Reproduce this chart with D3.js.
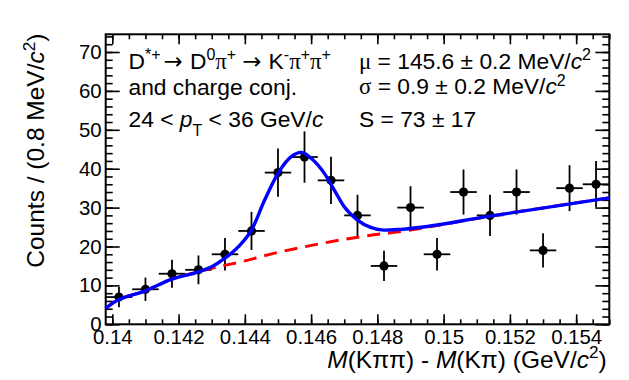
<!DOCTYPE html>
<html><head><meta charset="utf-8">
<script src="https://cdn.jsdelivr.net/npm/d3@7/dist/d3.min.js"></script>
<style>body{margin:0;background:#fff}svg{display:block}</style>
</head><body>
<svg id="c" width="629" height="380"></svg>
<script>
// ---- data ----
const binCenters = [0.1402,0.1410,0.1418,0.1426,0.1434,0.1442,0.1450,0.1458,0.1466,0.1474,0.1482,0.1490,0.1498,0.1506,0.1514,0.1522,0.1530,0.1538,0.1546];
const counts     = [7,9,13,14,18,24,39,43,37,28,15,30,18,34,28,34,19,35,36];
const countErr   = [2.6,3.0,3.6,3.7,4.2,4.9,6.2,6.6,6.1,5.3,3.9,5.5,4.2,5.8,5.3,5.8,4.4,5.9,6.0];
const binHalfWidth = 0.0004;

// total fit (signal + background)
const fitX = [0.1398,0.1400,0.1410,0.1418,0.1426,0.1430,0.1434,0.1438,0.1442,0.1446,0.1450,0.1454,0.1457,0.1460,0.1464,0.1467,0.1470,0.1474,0.1478,0.1482,0.1487,0.1514,0.1550];
const fitY = [4.1,5.4,8.6,11.6,13.5,14.8,17.0,19.9,24.2,32.0,38.8,43.1,44.2,42.7,38.8,34.5,30.2,26.8,24.9,24.2,24.4,27.8,32.5];
// background component
const bkgX = [0.1398,0.1400,0.1410,0.1418,0.1426,0.1430,0.1439,0.1449,0.1459,0.1469,0.1479,0.1484,0.1514,0.1550];
const bkgY = [4.1,5.4,8.6,11.6,13.5,14.4,16.1,18.3,20.1,21.7,23.0,23.5,27.8,32.5];

const xTickValues = [0.140,0.142,0.144,0.146,0.148,0.150,0.152,0.154];
const xTickLabels = ["0.14","0.142","0.144","0.146","0.148","0.15","0.152","0.154"];
const yTickValues = [0,10,20,30,40,50,60,70];
const yTickLabels = ["0","10","20","30","40","50","60","70"];
const xDomain = [0.1398, 0.1550];
const yDomain = [0, 74.55];

// ---- layout ----
const L = 105.7, R = 609.3, T = 34.3, B = 324.3;
const SANS = "'Liberation Sans', Arial, Helvetica, sans-serif";
const SERIF = "'Liberation Serif', 'Times New Roman', serif";
const ARROW = "'DejaVu Sans', sans-serif";

const svg = d3.select("#c");
const x = d3.scaleLinear().domain(xDomain).range([L, R]);
const y = d3.scaleLinear().domain(yDomain).range([B, T]);

const xMinor = d3.range(0.1400, 0.15501, 0.0005).filter(v => v <= xDomain[1] + 1e-9);
const yMinor = d3.range(0, 75, 2);

function styleAxis(g){
  g.select(".domain").remove();
  g.selectAll(".tick line").attr("stroke", "#000").attr("stroke-width", 1.6);
  g.selectAll("text").attr("font-family", SANS).attr("font-size", 20.4).attr("fill", "#000");
}

// bottom
svg.append("g").attr("transform", `translate(0,${B})`)
  .call(d3.axisBottom(x).tickValues(xMinor).tickSize(-5).tickFormat(""))
  .call(styleAxis);
svg.append("g").attr("transform", `translate(0,${B})`)
  .call(d3.axisBottom(x).tickValues(xTickValues).tickSize(-10).tickPadding(5)
        .tickFormat((d, i) => xTickLabels[i]))
  .call(styleAxis);
// top
svg.append("g").attr("transform", `translate(0,${T})`)
  .call(d3.axisTop(x).tickValues(xMinor).tickSize(-5).tickFormat(""))
  .call(styleAxis);
svg.append("g").attr("transform", `translate(0,${T})`)
  .call(d3.axisTop(x).tickValues(xTickValues).tickSize(-10).tickFormat(""))
  .call(styleAxis);
// left
svg.append("g").attr("transform", `translate(${L},0)`)
  .call(d3.axisLeft(y).tickValues(yMinor).tickSize(-7).tickFormat(""))
  .call(styleAxis);
svg.append("g").attr("transform", `translate(${L},0)`)
  .call(d3.axisLeft(y).tickValues(yTickValues).tickSize(-14).tickPadding(4)
        .tickFormat((d, i) => yTickLabels[i]))
  .call(styleAxis);
// right
svg.append("g").attr("transform", `translate(${R},0)`)
  .call(d3.axisRight(y).tickValues(yMinor).tickSize(-7).tickFormat(""))
  .call(styleAxis);
svg.append("g").attr("transform", `translate(${R},0)`)
  .call(d3.axisRight(y).tickValues(yTickValues).tickSize(-14).tickFormat(""))
  .call(styleAxis);

// frame
svg.append("rect").attr("x", L).attr("y", T).attr("width", R - L).attr("height", B - T)
  .attr("fill", "none").attr("stroke", "#000").attr("stroke-width", 2);

// ---- data points ----
const pts = svg.append("g");
binCenters.forEach((c, i) => {
  const g = pts.append("g");
  g.append("line").attr("x1", Math.max(x(c - binHalfWidth), L)).attr("x2", Math.min(x(c + binHalfWidth), R))
    .attr("y1", y(counts[i])).attr("y2", y(counts[i])).attr("stroke", "#000").attr("stroke-width", 1.8);
  g.append("line").attr("x1", x(c)).attr("x2", x(c))
    .attr("y1", y(counts[i] - countErr[i])).attr("y2", y(counts[i] + countErr[i]))
    .attr("stroke", "#000").attr("stroke-width", 1.8);
  g.append("circle").attr("cx", x(c)).attr("cy", y(counts[i])).attr("r", 4.6).attr("fill", "#000");
});

// ---- fit curves ----
const line = d3.line().curve(d3.curveMonotoneX);
svg.append("path")
  .attr("d", line(bkgX.map((v, i) => [x(v), y(bkgY[i])])))
  .attr("fill", "none").attr("stroke", "#ff0000").attr("stroke-width", 3)
  .attr("stroke-dasharray", "13,8");
svg.append("path")
  .attr("d", line(fitX.map((v, i) => [x(v), y(fitY[i])])))
  .attr("fill", "none").attr("stroke", "#0000ff").attr("stroke-width", 3.4);

// ---- rich text helper ----
function rich(sel, parts, size){
  let cur = 0;
  parts.forEach(p => {
    const target = p.s === "sup" ? -size * 0.38 : p.s === "sub" ? size * 0.42 : 0;
    const ts = sel.append("tspan").text(p.t).attr("dy", target - cur);
    cur = target;
    if (p.s) ts.attr("font-size", size * 0.7);
    if (p.i) ts.attr("font-style", "italic");
    if (p.f) ts.attr("font-family", p.f);
    if (p.dx) ts.attr("dx", p.dx);
  });
}
function label(xp, yp, parts, size, anchor){
  const t = svg.append("text").attr("x", xp).attr("y", yp)
    .attr("font-family", SANS).attr("font-size", size).attr("fill", "#000")
    .attr("text-anchor", anchor || "start");
  rich(t, parts, size);
  return t;
}

const LS = 22.8;
label(128.5, 69, [
  {t:"D"},{t:"*+", s:"sup"},{t:"→", f:ARROW, dx:3},{t:" D", dx:1},{t:"0", s:"sup"},{t:"π", f:SERIF},{t:"+", s:"sup"},
  {t:"→", f:ARROW, dx:6},{t:" K", dx:1},{t:"-", s:"sup"},{t:"π", f:SERIF},{t:"+", s:"sup"},{t:"π", f:SERIF},{t:"+", s:"sup"}
], LS);
label(128.5, 94.5, [{t:"and charge conj."}], LS);
label(128.5, 126.7, [{t:"24 < "},{t:"p", i:true},{t:"T", s:"sub"},{t:" < 36 GeV/"},{t:"c", i:true}], LS);

label(359, 69, [{t:"μ", f:SERIF},{t:" = 145.6 ± 0.2 MeV/"},{t:"c", i:true},{t:"2", s:"sup"}], LS);
label(359, 94.3, [{t:"σ", f:SERIF},{t:" = 0.9 ± 0.2 MeV/"},{t:"c", i:true},{t:"2", s:"sup"}], LS);
label(359, 126.7, [{t:"S = 73 ± 17"}], LS);

// axis titles
label(606.7, 367.5, [
  {t:"M", i:true},{t:"(Kππ) - "},{t:"M", i:true},{t:"(Kπ) (GeV/"},{t:"c", i:true},{t:"2", s:"sup"},{t:")"}
], 24.5, "end");

const yt = svg.append("text").attr("transform", "translate(44,33.5) rotate(-90)")
  .attr("font-family", SANS).attr("font-size", 24.5).attr("fill", "#000").attr("text-anchor", "end");
rich(yt, [{t:"Counts / (0.8 MeV/"},{t:"c", i:true},{t:"2", s:"sup"},{t:")"}], 24.5);
</script>
</body></html>
